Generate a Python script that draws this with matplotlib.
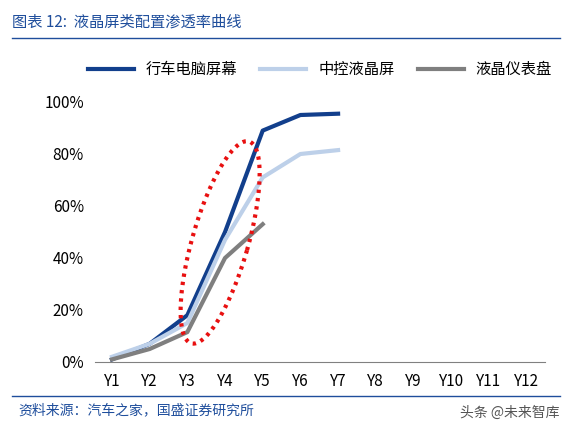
import numpy as np
import matplotlib
matplotlib.use("Agg")
import matplotlib.pyplot as plt
from matplotlib.lines import Line2D

plt.rcParams['font.family'] = ['Noto Sans CJK SC', 'DejaVu Sans']

years = ["Y1", "Y2", "Y3", "Y4", "Y5", "Y6", "Y7", "Y8", "Y9", "Y10", "Y11", "Y12"]
trip_computer = [0.01, 0.07, 0.18, 0.50, 0.89, 0.95, 0.955]
center_lcd = [0.02, 0.07, 0.15, 0.47, 0.71, 0.80, 0.815]
lcd_cluster = [0.01, 0.05, 0.115, 0.40, 0.53]

W, H = 572, 433
fig = plt.figure(figsize=(W / 100, H / 100), dpi=100)
ax = fig.add_axes([95 / W, 1 - 362 / H, 450 / W, 260 / H])

ax.plot(range(len(trip_computer)), trip_computer, color="#123f8c", lw=3, label="行车电脑屏幕")
ax.plot(range(len(center_lcd)), center_lcd, color="#bdd0e9", lw=3, label="中控液晶屏")
ax.plot(range(len(lcd_cluster)), lcd_cluster, color="#7f7f7f", lw=3, label="液晶仪表盘")

# red dotted ellipse, drawn in pixel units then mapped to data
t = np.linspace(0, 2 * np.pi, 200)
a, b, rot = 28, 105, np.deg2rad(-16)
px = a * np.cos(t) * np.cos(rot) - b * np.sin(t) * np.sin(rot)
py = a * np.cos(t) * np.sin(rot) + b * np.sin(t) * np.cos(rot)
ax.plot(2.87 + px / 37.7, 0.46 + py / 260, color="#e81010", lw=3, ls=(0, (0.8, 1.2)),
        clip_on=False)

ax.set_xlim(-0.45, 11.49)
ax.set_ylim(0, 1)
ax.set_xticks(range(len(years)))
ax.set_xticklabels(years)
ax.set_yticks(np.arange(0, 1.01, 0.2))
ax.set_yticklabels([f"{int(v*100)}%" for v in np.arange(0, 1.01, 0.2)])
ax.tick_params(labelsize=11, length=0, pad=8)
for s in ["top", "right", "left"]:
    ax.spines[s].set_visible(False)
ax.spines["bottom"].set_color("#808080")

ax.legend(loc="lower center", bbox_to_anchor=(0.5, 1.04), ncol=3, frameon=False,
          fontsize=11, handlelength=3, columnspacing=1.5)

fig.text(12 / W, 1 - 22 / H, "图表 12:  液晶屏类配置渗透率曲线", color="#1f4e9c",
         fontsize=11, style="italic", va="center")
fig.add_artist(Line2D([12 / W, 560 / W], [1 - 38 / H, 1 - 38 / H], color="#1f4e9c", lw=1))
fig.add_artist(Line2D([12 / W, 560 / W], [1 - 396 / H, 1 - 396 / H], color="#1f4e9c", lw=1))
fig.text(18 / W, 1 - 410 / H, "资料来源：汽车之家，国盛证券研究所", color="#1f4e9c",
         fontsize=10, style="italic", va="center")
fig.text(560 / W, 1 - 413 / H, "头条 @未来智库", color="#555555", fontsize=10,
         ha="right", va="center")

fig.savefig("out.png", dpi=100)
